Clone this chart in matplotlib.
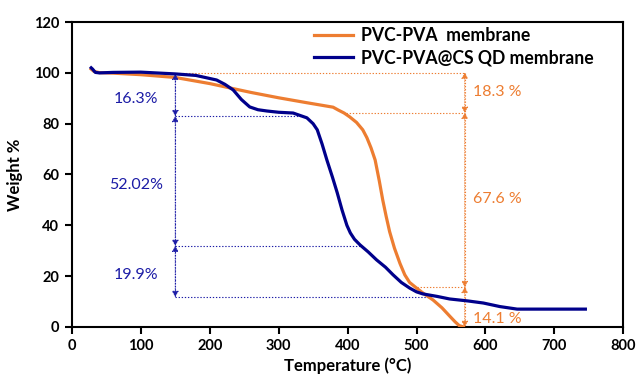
import matplotlib
matplotlib.use("Agg")
import matplotlib.pyplot as plt

plt.rcParams['font.family'] = ['Lato', 'DejaVu Sans']

# Data
temp_pva = [28, 32, 40, 60, 100, 150, 200, 229, 260, 300, 340, 379, 387, 395, 403, 413, 422,
            428, 434, 440, 446, 451, 456, 461, 468, 476, 483, 490, 500, 510, 524, 537, 549,
            556, 562, 568]
weight_pva = [101.5, 100.6, 100.1, 99.9, 99.3, 98.2, 95.8, 94.1, 92.3, 90.2, 88.3, 86.5, 85.3,
              84.2, 82.7, 80.5, 77.6, 74.5, 70.5, 65.7, 57.5, 50, 43.5, 37.5, 31, 25, 20.5,
              17.5, 15.3, 13.2, 10.6, 7.5, 4, 2, 0.5, 0]

temp_cs = [28, 30, 34, 40, 60, 100, 150, 180, 210, 222, 234, 246, 258, 270, 283, 300, 321,
           341, 350, 356, 363, 370, 378, 385, 392, 399, 404, 410, 418, 430, 442, 455, 466,
           478, 490, 500, 509, 530, 548, 575, 597, 621, 646, 700, 745]
weight_cs = [102, 101.5, 100.2, 100, 100.2, 100.3, 99.6, 99, 97.2, 95.5, 93.3, 89.5, 86.6,
             85.5, 85, 84.5, 84.2, 82.3, 80, 77.6, 72, 65.7, 59, 52.8, 46, 40, 37, 34.5, 32.3,
             29.5, 26.4, 23.5, 20.5, 17.5, 15.3, 13.8, 13, 12, 11, 10.2, 9.4, 8, 7, 7, 7]

series_labels = ["PVC-PVA  membrane", "PVC-PVA@CS QD membrane"]

# Step annotations (x position, levels, labels)
cs_x = 150
cs_levels = [99.6, 83.0, 31.9, 11.8]
cs_line_ends = [None, 340, 420, 518]
cs_labels = ["16.3%", "52.02%", "19.9%"]

pva_x = 570
pva_levels = [100.1, 84.3, 15.7, 0.0]
pva_line_starts = [147, 393, None, None]
pva_labels = ["18.3 %", "67.6 %", "14.1 %"]
pva_lower_start = 500

orange = '#ED7D31'
blue = '#00008B'
blue_txt = '#1C1CA6'

fig = plt.figure(figsize=(6.36, 3.81), dpi=100)
ax = fig.add_axes([0.113, 0.142, 0.867, 0.800])

ax.plot(temp_pva, weight_pva, color=orange, lw=2.3, label=series_labels[0], zorder=3)
ax.plot(temp_cs, weight_cs, color=blue, lw=2.3, label=series_labels[1], zorder=4)

dot = (0, (1.2, 1.6))

# blue annotations
ax.plot([cs_x, cs_x], [cs_levels[0], cs_levels[-1]], color=blue_txt, lw=0.8, ls=dot)
for lvl, xe in zip(cs_levels[1:], cs_line_ends[1:]):
    ax.plot([cs_x, xe], [lvl, lvl], color=blue_txt, lw=0.8, ls=dot)
for i, lab in enumerate(cs_labels):
    a, b = cs_levels[i], cs_levels[i + 1]
    ax.annotate('', xy=(cs_x, a), xytext=(cs_x, b),
                arrowprops=dict(arrowstyle='<|-|>,head_length=0.35,head_width=0.2',
                                color=blue_txt, lw=0.6, ls=dot, shrinkA=0, shrinkB=0))
    ax.text(93, (a + b) / 2 - 1.5, lab, color=blue_txt, fontsize=11.5, ha='center', va='center')

# orange annotations
ax.plot([pva_x, pva_x], [pva_levels[0], pva_levels[-1]], color=orange, lw=0.8, ls=dot)
ax.plot([pva_line_starts[0], pva_x], [pva_levels[0], pva_levels[0]], color=orange, lw=0.8, ls=dot)
ax.plot([pva_line_starts[1], pva_x], [pva_levels[1], pva_levels[1]], color=orange, lw=0.8, ls=dot)
ax.plot([pva_lower_start, pva_x], [pva_levels[2], pva_levels[2]], color=orange, lw=0.8, ls=dot)
label_y = [92.5, 50.4, 3.3]
for i, lab in enumerate(pva_labels):
    a, b = pva_levels[i], pva_levels[i + 1]
    ax.annotate('', xy=(pva_x, a), xytext=(pva_x, b),
                arrowprops=dict(arrowstyle='<|-|>,head_length=0.35,head_width=0.2',
                                color=orange, lw=0.6, ls=dot, shrinkA=0, shrinkB=0))
    ax.text(582, label_y[i], lab, color=orange, fontsize=11.5, ha='left', va='center')

ax.set_xlim(0, 800)
ax.set_ylim(0, 120)
ax.set_xticks(range(0, 801, 100))
ax.set_yticks(range(0, 121, 20))
ax.tick_params(axis='both', direction='out', length=5, width=1.5, labelsize=10.5, pad=4)
for lab in ax.get_xticklabels() + ax.get_yticklabels():
    lab.set_fontweight('bold')
for s in ax.spines.values():
    s.set_linewidth(1.5)

ax.set_xlabel('Temperature (°C)', fontsize=12, fontweight='bold', labelpad=3)
ax.set_ylabel('Weight %', fontsize=12, fontweight='bold', labelpad=8)

leg = ax.legend(loc='upper left', bbox_to_anchor=(0.41, 1.035), frameon=False,
                prop={'weight': 'bold', 'size': 12.7}, handlelength=2.2, handletextpad=0.5,
                labelspacing=0.3)

fig.savefig('out.png', dpi=100)
